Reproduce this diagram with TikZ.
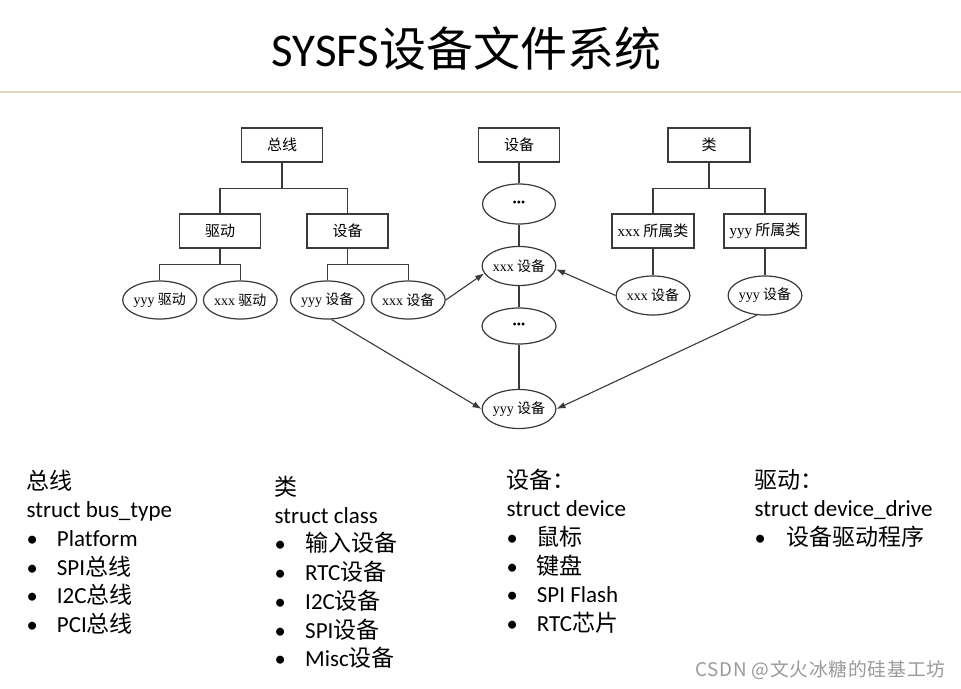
\documentclass[tikz,border=0pt]{standalone}
\usepackage{fontspec}
\setmainfont{Carlito}[Ligatures=NoCommon]
\newfontfamily\cjk{Noto Sans CJK SC}
\newfontfamily\dserif{Liberation Serif}
\newfontfamily\wmfont{Noto Sans CJK SC}[LetterSpace=4]
\usetikzlibrary{shapes.geometric,arrows.meta}
\definecolor{lnc}{HTML}{3A3A3A}
\definecolor{sepc}{HTML}{DAD6C2}
\definecolor{wmc}{HTML}{9A9A9A}
\newcommand{\zh}[1]{{\cjk #1}}
\newcommand{\tdots}{{\dserif\fontsize{12}{12}\selectfont\textbullet\textbullet\textbullet}}
\begin{document}
\begin{tikzpicture}[x=1pt,y=-1pt,
  boxnode/.style={draw=lnc,line width=1.3pt,minimum width=81pt,minimum height=34pt,inner sep=0pt,font=\fontsize{15}{15}\selectfont},
  ellnode/.style={ellipse,draw=lnc,line width=1.2pt,minimum width=73pt,minimum height=38pt,inner sep=0pt,font=\fontsize{14}{14}\selectfont},
  conn/.style={draw=lnc,line width=1.1pt},
  arr/.style={draw=lnc,line width=1.1pt,-{Latex[length=9pt,width=6.5pt]}},
  txt/.style={anchor=base west,inner sep=0pt,font=\fontsize{23}{23}\selectfont},
  bul/.style={anchor=base west,inner sep=0pt,font=\fontsize{22.5}{22.5}\selectfont}
]
\fill[white] (0,0) rectangle (961,688);
\useasboundingbox (0,0) rectangle (961,688);
% title
\node[inner sep=0pt,font=\fontsize{47}{47}\selectfont] (title) at (466.5,49) {SYSFS\zh{设备文件系统}};
\draw[sepc,line width=1.4pt] (0,92) coordinate (sepL) -- (961,92) coordinate (sepR);
% boxes
\node[boxnode] (zx) at (282,145) {\zh{总线}};
\node[boxnode] (qd) at (220,231) {\zh{驱动}};
\node[boxnode] (sbL) at (347.5,231) {\zh{设备}};
\node[boxnode] (sbT) at (519,145) {\zh{设备}};
\node[boxnode,minimum width=82pt] (lei) at (709,145) {\zh{类}};
\node[boxnode,minimum width=82pt] (xs) at (653,231) {{\dserif xxx} \zh{所属类}};
\node[boxnode,minimum width=82pt] (ys) at (765,231) {{\dserif yyy} \zh{所属类}};
% ellipses
\node[ellnode,minimum width=74pt] (lyq) at (159.7,300) {{\dserif yyy} \zh{驱动}};
\node[ellnode] (lxq) at (240.3,300) {{\dserif xxx} \zh{驱动}};
\node[ellnode] (lys) at (327.3,300) {{\dserif yyy} \zh{设备}};
\node[ellnode] (lxs) at (408.3,300) {{\dserif xxx} \zh{设备}};
\node[ellnode,minimum height=40pt] (d1) at (519,204) {\tdots};
\node[ellnode,minimum width=72pt,minimum height=39pt] (mx) at (519,266) {{\dserif xxx} \zh{设备}};
\node[ellnode,minimum width=74pt,minimum height=36pt] (d2) at (519,326) {\tdots};
\node[ellnode,minimum width=72pt,minimum height=39pt] (by) at (519,409) {{\dserif yyy} \zh{设备}};
\node[ellnode,minimum height=39pt] (rx) at (653,295.5) {{\dserif xxx} \zh{设备}};
\node[ellnode,minimum height=39pt] (ry) at (765,295.5) {{\dserif yyy} \zh{设备}};
% tree connectors
\draw[conn] (zx.south) -- ++(0,26) -| (qd.north);
\draw[conn] (zx.south) -- ++(0,26) -| (sbL.north);
\draw[conn] (qd.south) -- ++(0,16) -| (lyq.north);
\draw[conn] (qd.south) -- ++(0,16) -| (lxq.north);
\draw[conn] (sbL.south) -- ++(0,16) -| (lys.north);
\draw[conn] (sbL.south) -- ++(0,16) -| (lxs.north);
\draw[conn] (lei.south) -- ++(0,26) -| (xs.north);
\draw[conn] (lei.south) -- ++(0,26) -| (ys.north);
\draw[conn] (xs.south) -- (rx.north);
\draw[conn] (ys.south) -- (ry.north);
\draw[conn] (sbT.south) -- (d1.north);
\draw[conn] (d1.south) -- (mx.north);
\draw[conn] (mx.south) -- (d2.north);
\draw[conn] (d2.south) -- (by.north);
% arrows
\draw[arr] (lxs.east) -- (mx.192);
\draw[arr] (rx.west) -- (mx.355);
\draw[arr] (lys.282) -- (by.west);
\draw[arr] (ry.248) -- (by.east);
% column 1
\node[txt] (c1a) at (26.5,489) {\zh{总线}};
\node[txt] (c1b) at (26.5,517.7) {struct bus\_type};
\node[bul] (c1p1) at (26.5,546.4) {•};
\node[txt] (c1t1) at (56.7,546.4) {Platform};
\node[bul] (c1p2) at (26.5,575.1) {•};
\node[txt] (c1t2) at (56.7,575.1) {SPI\zh{总线}};
\node[bul] (c1p3) at (26.5,603.8) {•};
\node[txt] (c1t3) at (56.7,603.8) {I2C\zh{总线}};
\node[bul] (c1p4) at (26.5,632.5) {•};
\node[txt] (c1t4) at (56.7,632.5) {PCI\zh{总线}};
% column 2
\node[txt] (c2a) at (274.5,495) {\zh{类}};
\node[txt] (c2b) at (274.5,523.2) {struct class};
\node[bul] (c2p1) at (274.5,551.9) {•};
\node[txt] (c2t1) at (305,551.9) {\zh{输入设备}};
\node[bul] (c2p2) at (274.5,580.6) {•};
\node[txt] (c2t2) at (305,580.6) {RTC\zh{设备}};
\node[bul] (c2p3) at (274.5,609.3) {•};
\node[txt] (c2t3) at (305,609.3) {I2C\zh{设备}};
\node[bul] (c2p4) at (274.5,638) {•};
\node[txt] (c2t4) at (305,638) {SPI\zh{设备}};
\node[bul] (c2p5) at (274.5,666.7) {•};
\node[txt] (c2t5) at (305,666.7) {Misc\zh{设备}};
% column 3
\node[txt] (c3a) at (506.5,488) {\zh{设备：}};
\node[txt] (c3b) at (506.5,516.7) {struct device};
\node[bul] (c3p1) at (506.5,545.4) {•};
\node[txt] (c3t1) at (536.7,545.4) {\zh{鼠标}};
\node[bul] (c3p2) at (506.5,574.1) {•};
\node[txt] (c3t2) at (536.7,574.1) {\zh{键盘}};
\node[bul] (c3p3) at (506.5,602.8) {•};
\node[txt] (c3t3) at (536.7,602.8) {SPI Flash};
\node[bul] (c3p4) at (506.5,631.5) {•};
\node[txt] (c3t4) at (536.7,631.5) {RTC\zh{芯片}};
% column 4
\node[txt] (c4a) at (754.5,488) {\zh{驱动：}};
\node[txt] (c4b) at (754.5,516.7) {struct device\_drive};
\node[bul] (c4p1) at (754.5,545.4) {•};
\node[txt] (c4t1) at (786,545.4) {\zh{设备驱动程序}};
% watermark
\node[anchor=base west,inner sep=0pt,text=wmc,font=\fontsize{18.8}{18.8}\selectfont] (wm) at (695,676) {{\wmfont CSDN @文火冰糖的硅基工坊}};
\end{tikzpicture}
\end{document}
